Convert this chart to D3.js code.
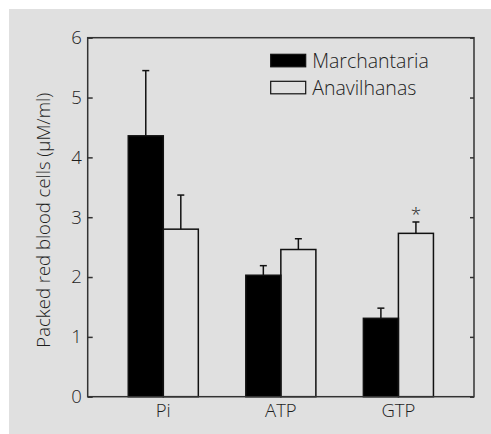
<!DOCTYPE html>
<html>
<head>
<meta charset="utf-8">
<script src="https://cdn.jsdelivr.net/npm/d3@7"></script>
<style>
  body { margin: 0; background: #fff; }
  text { font-family: 'Open Sans', 'Liberation Sans', sans-serif; font-weight: 300; fill: #1e1e1e; }
</style>
</head>
<body>
<div id="chart"></div>
<script>
var categories = ['Pi', 'ATP', 'GTP']
var seriesNames = ['Marchantaria', 'Anavilhanas']
var marchantaria = [4.36, 2.03, 1.31]
var marchantariaErr = [1.09, 0.16, 0.17]
var anavilhanas = [2.80, 2.46, 2.73]
var anavilhanasErr = [0.57, 0.18, 0.19]
var starred = [false, false, true]   // significance mark on Anavilhanas
var yTicks = [0, 1, 2, 3, 4, 5, 6]

var FONT = "'Open Sans', 'Liberation Sans', sans-serif"
var W = 491, H = 434
var margin = {top: 37.7, right: 17, bottom: 37.3, left: 87.7}
var width = W - margin.left - margin.right
var height = H - margin.top - margin.bottom

var root = d3.select('#chart').append('svg')
    .attr('width', W)
    .attr('height', H)

root.append('rect')
    .attr('x', 9).attr('y', 9)
    .attr('width', W - 9).attr('height', H - 9)
    .attr('fill', '#e0e0e0')

var svg = root.append('g')
    .attr('transform', `translate(${margin.left}, ${margin.top})`)

var xScale = d3.scaleBand().domain(categories).range([0, width])
    .paddingInner(0.404).paddingOuter(0.345)
var sub = d3.scaleBand().domain(seriesNames).range([0, xScale.bandwidth()])
var yScale = d3.scaleLinear().domain([0, 6]).range([height, 0])

var data = categories.map((c, i) => [
    {cat: c, s: seriesNames[0], v: marchantaria[i], e: marchantariaErr[i], star: false},
    {cat: c, s: seriesNames[1], v: anavilhanas[i], e: anavilhanasErr[i], star: starred[i]}
]).flat()

// error bars first so bars sit over the stem bottom
var err = svg.append('g')
data.forEach(d => {
    var cx = xScale(d.cat) + sub(d.s) + sub.bandwidth() / 2
    err.append('line')
        .attr('x1', cx).attr('x2', cx)
        .attr('y1', yScale(d.v)).attr('y2', yScale(d.v + d.e))
        .attr('stroke', '#111').attr('stroke-width', 1.5)
    err.append('line')
        .attr('x1', cx - 3.5).attr('x2', cx + 3.5)
        .attr('y1', yScale(d.v + d.e)).attr('y2', yScale(d.v + d.e))
        .attr('stroke', '#111').attr('stroke-width', 1.5)
    if (d.star) {
        svg.append('text')
            .attr('x', cx)
            .attr('y', yScale(d.v + d.e) - 1)
            .attr('text-anchor', 'middle')
            .attr('font-size', 19)
            .text('*')
    }
})

svg.selectAll('rect.bar')
    .data(data)
    .enter().append('rect')
    .attr('class', 'bar')
    .attr('x', d => xScale(d.cat) + sub(d.s))
    .attr('y', d => yScale(d.v))
    .attr('width', sub.bandwidth())
    .attr('height', d => height - yScale(d.v))
    .attr('fill', d => d.s === seriesNames[0] ? '#000' : 'none')
    .attr('stroke', '#111')
    .attr('stroke-width', 1.5)

// frame
svg.append('rect')
    .attr('x', 0).attr('y', 0)
    .attr('width', width).attr('height', height)
    .attr('fill', 'none')
    .attr('stroke', '#333')
    .attr('stroke-width', 1.5)

var yAxis = svg.append('g')
    .call(d3.axisLeft(yScale).tickValues(yTicks).tickSize(-5).tickPadding(6).tickFormat(d3.format('d')))
yAxis.select('.domain').remove()
yAxis.selectAll('line').attr('stroke', '#333').attr('stroke-width', 1.5)
yAxis.selectAll('text').attr('font-size', 18.5).attr('fill', '#1e1e1e')
    .style('font-family', FONT).style('font-weight', 300)

var yAxisR = svg.append('g')
    .attr('transform', `translate(${width}, 0)`)
    .call(d3.axisRight(yScale).tickValues(yTicks).tickSize(-4).tickFormat(''))
yAxisR.select('.domain').remove()
yAxisR.selectAll('line').attr('stroke', '#333').attr('stroke-width', 1.5)

var xAxis = svg.append('g')
    .attr('transform', `translate(0, ${height})`)
    .call(d3.axisBottom(xScale).tickSize(0).tickPadding(7))
xAxis.select('.domain').remove()
xAxis.selectAll('text').attr('font-size', 18.5).attr('fill', '#1e1e1e')
    .style('font-family', FONT).style('font-weight', 300)

svg.append('text')
    .attr('transform', `translate(${44 - margin.left}, ${height / 2 + 3}) rotate(-90)`)
    .attr('text-anchor', 'middle')
    .attr('dy', '0.35em')
    .attr('font-size', 18.5)
    .text('Packed red blood cells (µM/ml)')

// legend
var legend = svg.append('g')
    .attr('transform', `translate(${270.7 - margin.left}, ${54.3 - margin.top})`)
seriesNames.forEach((s, i) => {
    legend.append('rect')
        .attr('x', 0).attr('y', i * 27)
        .attr('width', 35).attr('height', 12.5)
        .attr('fill', i === 0 ? '#000' : 'none')
        .attr('stroke', '#111').attr('stroke-width', 1.2)
    legend.append('text')
        .attr('x', 41.5).attr('y', i * 27 + 13.5)
        .attr('font-size', 19.5)
        .text(s)
})
</script>
</body>
</html>
